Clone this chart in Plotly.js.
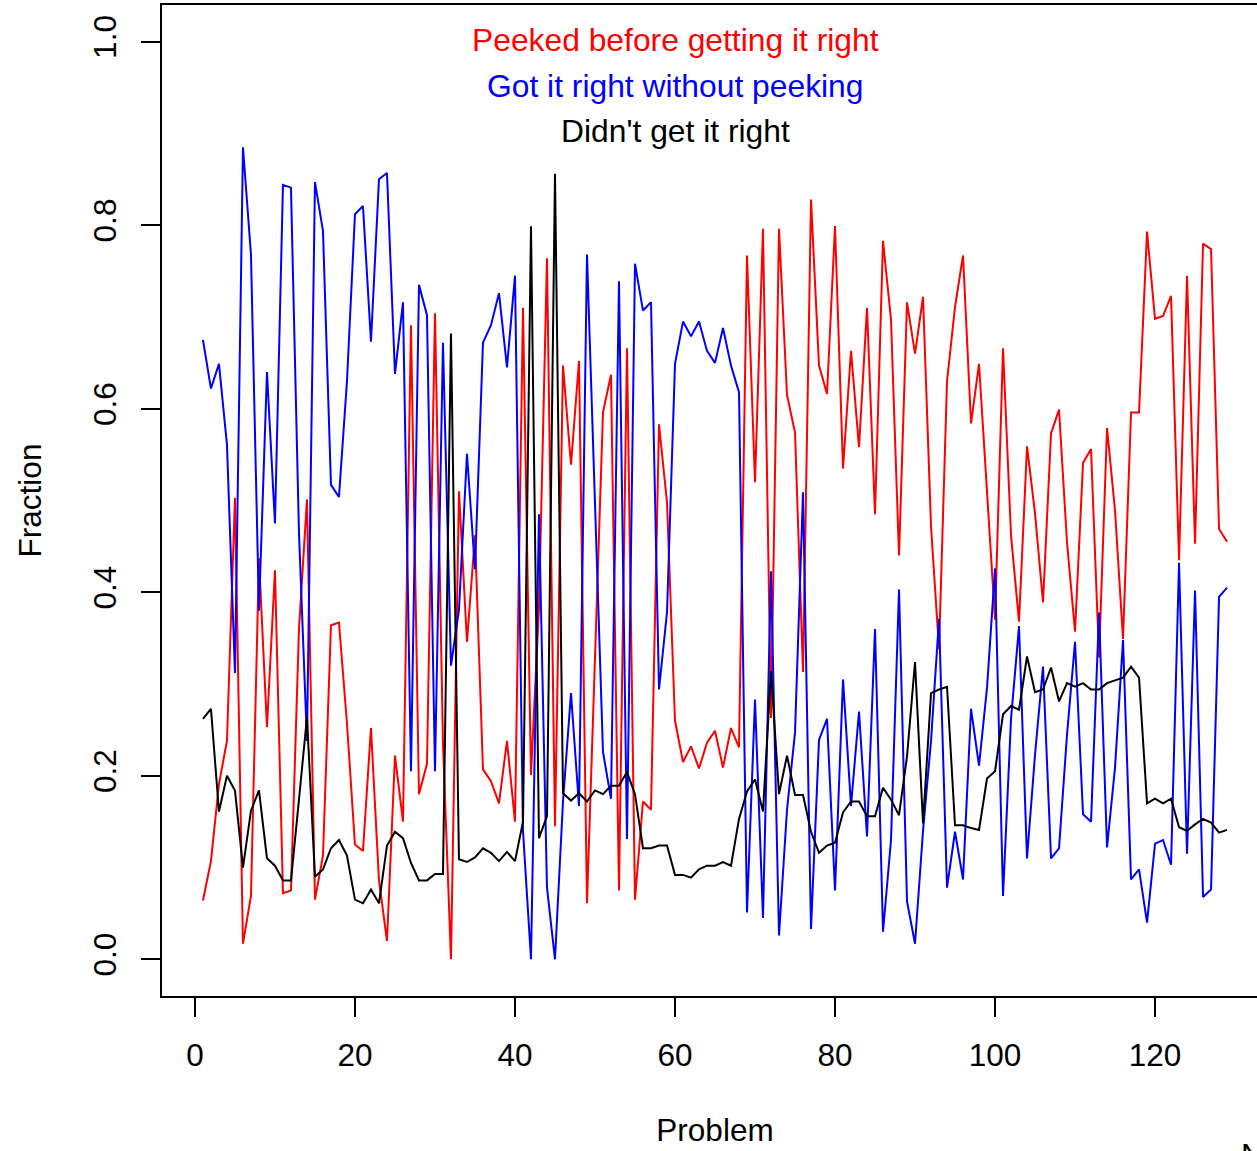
<!DOCTYPE html>
<html>
<head>
<meta charset="utf-8">
<script src="https://cdn.plot.ly/plotly-3.0.1.min.js"></script>
<style>
  html, body { margin: 0; padding: 0; overflow: hidden; background: #fff; }
  #chart { width: 1280px; height: 1151px; }
</style>
</head>
<body>
<div id="chart"></div>
<script>
// Problem numbers
const problem = [1,2,3,4,5,6,7,8,9,10,11,12,13,14,15,16,17,18,19,20,
  21,22,23,24,25,26,27,28,29,30,31,32,33,34,35,36,37,38,39,40,
  41,42,43,44,45,46,47,48,49,50,51,52,53,54,55,56,57,58,59,60,
  61,62,63,64,65,66,67,68,69,70,71,72,73,74,75,76,77,78,79,80,
  81,82,83,84,85,86,87,88,89,90,91,92,93,94,95,96,97,98,99,100,
  101,102,103,104,105,106,107,108,109,110,111,112,113,114,115,116,117,118,119,120,
  121,122,123,124,125,126,127,128,129];

// Fraction that peeked before getting it right (red)
const peeked = [0.064,0.107,0.191,0.238,0.503,0.017,0.069,0.437,0.253,0.424,
  0.072,0.075,0.360,0.501,0.065,0.113,0.364,0.367,0.257,0.125,
  0.118,0.252,0.086,0.020,0.222,0.150,0.691,0.180,0.213,0.704,
  0.235,0.000,0.510,0.346,0.462,0.207,0.194,0.170,0.238,0.150,
  0.710,0.201,0.383,0.764,0.145,0.647,0.539,0.652,0.061,0.330,
  0.596,0.637,0.075,0.666,0.065,0.172,0.163,0.583,0.498,0.260,
  0.215,0.232,0.208,0.236,0.249,0.209,0.252,0.231,0.767,0.520,
  0.796,0.263,0.796,0.615,0.574,0.313,0.828,0.647,0.616,0.799,
  0.535,0.663,0.558,0.710,0.485,0.783,0.697,0.440,0.716,0.660,
  0.722,0.472,0.338,0.630,0.711,0.767,0.584,0.649,0.507,0.370,
  0.666,0.462,0.368,0.559,0.486,0.389,0.573,0.599,0.454,0.357,
  0.541,0.556,0.329,0.579,0.489,0.349,0.596,0.596,0.793,0.698,
  0.701,0.723,0.435,0.745,0.453,0.780,0.774,0.469,0.455];

// Fraction that got it right without peeking (blue)
const noPeek = [0.675,0.622,0.649,0.561,0.312,0.885,0.768,0.380,0.640,0.475,
  0.844,0.841,0.465,0.238,0.847,0.794,0.517,0.504,0.630,0.812,
  0.821,0.673,0.850,0.857,0.638,0.716,0.205,0.735,0.702,0.205,
  0.672,0.320,0.381,0.551,0.425,0.672,0.691,0.726,0.645,0.745,
  0.140,0.000,0.485,0.078,0.000,0.172,0.290,0.167,0.768,0.487,
  0.226,0.175,0.739,0.131,0.758,0.707,0.716,0.294,0.378,0.649,
  0.695,0.679,0.695,0.663,0.650,0.688,0.647,0.618,0.051,0.283,
  0.045,0.423,0.026,0.163,0.247,0.509,0.033,0.239,0.262,0.075,
  0.305,0.167,0.270,0.134,0.360,0.030,0.130,0.403,0.063,0.017,
  0.140,0.238,0.371,0.078,0.139,0.087,0.273,0.211,0.296,0.426,
  0.069,0.262,0.363,0.110,0.223,0.319,0.110,0.121,0.245,0.346,
  0.158,0.150,0.378,0.122,0.209,0.348,0.087,0.098,0.040,0.126,
  0.130,0.103,0.432,0.115,0.402,0.068,0.076,0.395,0.405];

// Fraction that didn't get it right (black)
const wrong = [0.262,0.273,0.161,0.200,0.184,0.100,0.162,0.184,0.110,0.102,
  0.086,0.086,0.174,0.264,0.090,0.098,0.121,0.130,0.113,0.065,
  0.061,0.076,0.061,0.124,0.139,0.132,0.105,0.086,0.086,0.093,
  0.093,0.682,0.109,0.106,0.111,0.121,0.116,0.107,0.117,0.107,
  0.150,0.799,0.132,0.156,0.856,0.181,0.173,0.181,0.172,0.184,
  0.180,0.189,0.189,0.204,0.180,0.121,0.121,0.124,0.124,0.092,
  0.092,0.089,0.098,0.102,0.102,0.106,0.102,0.153,0.183,0.196,
  0.161,0.314,0.180,0.222,0.179,0.179,0.139,0.116,0.124,0.127,
  0.160,0.172,0.172,0.156,0.156,0.187,0.174,0.157,0.221,0.324,
  0.148,0.290,0.294,0.297,0.146,0.146,0.143,0.141,0.197,0.205,
  0.267,0.276,0.272,0.330,0.291,0.294,0.318,0.281,0.301,0.297,
  0.301,0.294,0.294,0.301,0.304,0.307,0.319,0.307,0.170,0.175,
  0.170,0.175,0.144,0.140,0.147,0.153,0.149,0.138,0.141];

const seriesNames = ["Peeked before getting it right", "Got it right without peeking", "Didn't get it right"];
const seriesColors = ["#ff0000", "#0000ff", "#000000"];

const xTicks = [0, 20, 40, 60, 80, 100, 120];
const yTicks = [0, 0.2, 0.4, 0.6, 0.8, 1.0];
const yTickText = ["0.0", "0.2", "0.4", "0.6", "0.8", "1.0"];

const FONT = "Liberation Sans, Arial, Helvetica, sans-serif";
const FS = 31.5;
const LFS = 31.8;

const ys = [peeked, noPeek, wrong];
const traces = ys.map((y, i) => ({
  type: "scatter",
  mode: "lines",
  x: problem,
  y: y,
  name: seriesNames[i],
  line: { color: seriesColors[i], width: 2 },
  showlegend: false
}));

// R-style legend: colored text only, centred at problem 60
const legendY = [1.002, 0.952, 0.903];
const annotations = seriesNames.map((t, i) => ({
  text: t, x: 60, y: legendY[i], xref: "x", yref: "y",
  xanchor: "center", yanchor: "middle", showarrow: false,
  font: { family: FONT, size: LFS, color: seriesColors[i] }
}));
// partially visible text at the bottom-right edge of the reference
annotations.push({
  text: "N", xref: "paper", yref: "paper", x: 0.9735, y: -0.1405,
  xanchor: "left", yanchor: "top", showarrow: false,
  font: { family: FONT, size: FS, color: "#000" }
});

const axisCommon = {
  showgrid: false, zeroline: false,
  showline: true, mirror: true, linecolor: "#000", linewidth: 2,
  ticks: "outside", ticklen: 19, tickwidth: 2, tickcolor: "#000",
  tickfont: { family: FONT, size: FS, color: "#000" }
};

const layout = {
  width: 1280, height: 1151,
  margin: { l: 162, r: 12, t: 5, b: 155, pad: 0 },
  paper_bgcolor: "#fff", plot_bgcolor: "#fff",
  font: { family: FONT, size: FS, color: "#000" },
  xaxis: Object.assign({}, axisCommon, {
    range: [-4.12, 134.12],
    tickmode: "array", tickvals: xTicks,
    ticklabelstandoff: 11,
    title: { text: "Problem", font: { family: FONT, size: FS, color: "#000" }, standoff: 47 },
    automargin: false
  }),
  yaxis: Object.assign({}, axisCommon, {
    range: [-0.04, 1.04],
    tickmode: "array", tickvals: yTicks, ticktext: yTickText,
    tickangle: -90,
    ticklabelstandoff: 12,
    title: { text: "Fraction", font: { family: FONT, size: FS, color: "#000" }, standoff: 36 },
    automargin: false
  }),
  annotations: annotations
};

Plotly.newPlot("chart", traces, layout, { displayModeBar: false, staticPlot: true });
</script>
</body>
</html>
